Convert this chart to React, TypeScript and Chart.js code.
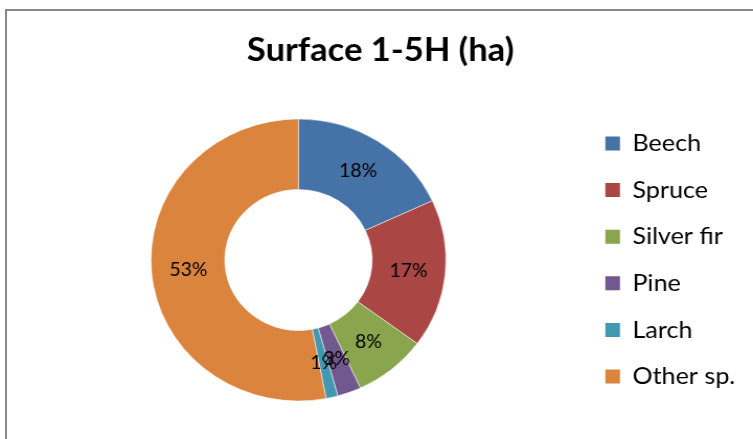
import React, { useEffect, useRef } from "react";
import { Chart, registerables } from "chart.js";

Chart.register(...registerables);

const titleText = "Surface 1-5H (ha)";
const species = ["Beech", "Spruce", "Silver fir", "Pine", "Larch", "Other sp."];
const shares = [18.1, 17.0, 8.0, 2.6, 1.3, 53.0];
const colors = ["#4572A7", "#AA4643", "#89A54E", "#71588F", "#4198AF", "#DB843D"];

const pctLabels = {
  id: "pctLabels",
  afterDatasetsDraw(chart: any) {
    const ctx = chart.ctx;
    const meta = chart.getDatasetMeta(0);
    const vals = chart.data.datasets[0].data as number[];
    const total = vals.reduce((a, b) => a + b, 0);
    ctx.save();
    ctx.font = "18.5px Lato";
    ctx.fillStyle = "#000";
    ctx.textAlign = "center";
    ctx.textBaseline = "middle";
    meta.data.forEach((arc: any, i: number) => {
      const p = arc.tooltipPosition();
      ctx.fillText(Math.round((vals[i] / total) * 100) + "%", p.x, p.y);
    });
    ctx.restore();
  },
};

export default function App() {
  const ref = useRef<HTMLCanvasElement>(null);
  useEffect(() => {
    const canvas = ref.current!;
    const defaultGen = (Chart as any).overrides.doughnut.plugins.legend.labels.generateLabels;
    const chart = new Chart(canvas, {
      type: "doughnut",
      data: {
        labels: species,
        datasets: [
          {
            data: shares,
            backgroundColor: colors,
            borderColor: "rgba(255,255,255,0.5)",
            borderWidth: 1,
          },
        ],
      },
      options: {
        responsive: false,
        animation: false,
        events: [],
        radius: 141,
        cutout: "50%",
        layout: { padding: { left: 14.6, right: 7, top: 0, bottom: 0 } },
        plugins: {
          tooltip: { enabled: false },
          title: {
            display: true,
            text: titleText,
            color: "#000",
            font: { family: "Lato", weight: "bold", size: 33 },
            padding: { top: 31, bottom: 10.4 },
          },
          legend: {
            position: "right",
            fullSize: false,
            align: "center",
            labels: {
              boxWidth: 14,
              boxHeight: 14,
              padding: 22.6,
              color: "#000",
              font: { family: "Lato", size: 24 },
              generateLabels: (c: any) =>
                defaultGen(c).map((l: any) => ({ ...l, lineWidth: 0 })),
            },
          },
        },
      },
      plugins: [pctLabels],
    });
    return () => chart.destroy();
  }, []);

  return (
    <div
      style={{
        position: "fixed",
        left: 0,
        top: 0,
        width: 753,
        height: 439,
        background: "#fff",
        overflow: "hidden",
      }}
    >
      <canvas
        ref={ref}
        width={720}
        height={439}
        style={{ position: "absolute", left: 0, top: 0, width: "753px", height: "439px" }}
      />
      <div
        style={{
          position: "absolute",
          left: 5,
          top: 9,
          width: 800,
          height: 500,
          borderTop: "2px solid #888",
          borderLeft: "2px solid #888",
          pointerEvents: "none",
        }}
      />
    </div>
  );
}
